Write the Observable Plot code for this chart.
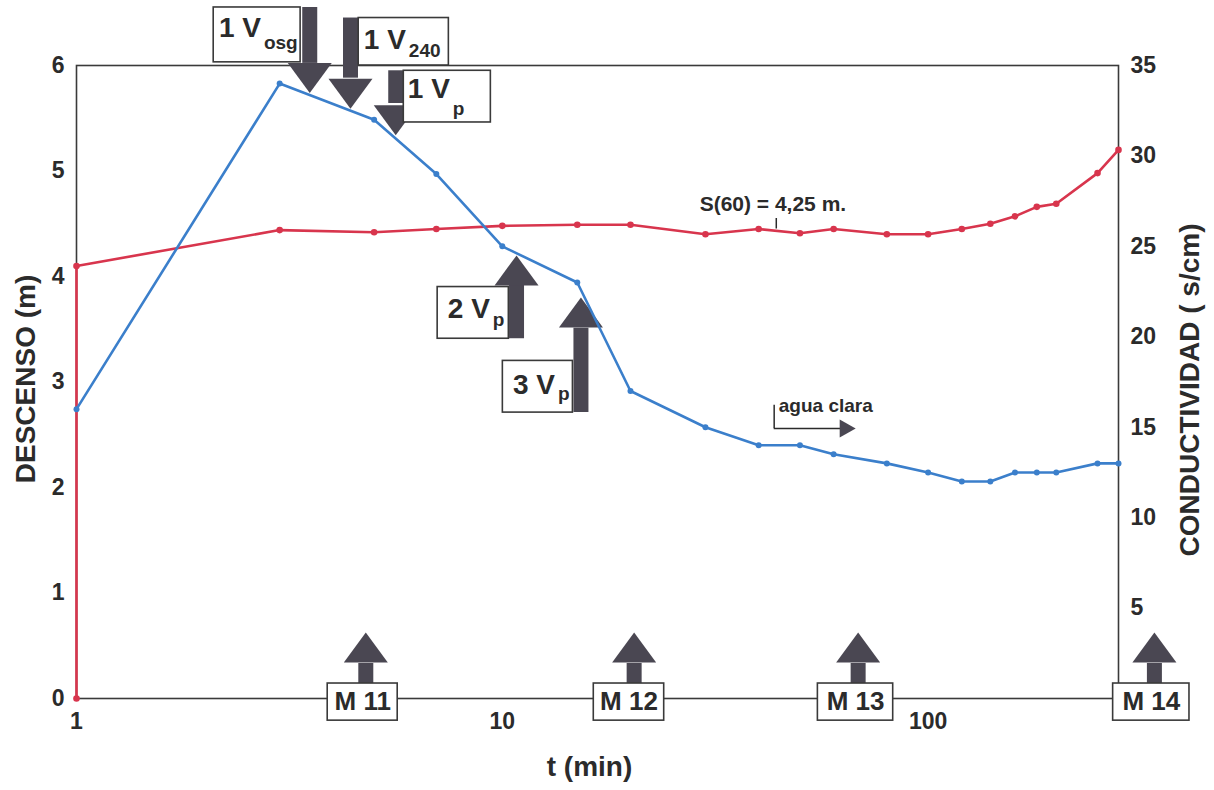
<!DOCTYPE html>
<html>
<head>
<meta charset="utf-8">
<script src="https://cdn.jsdelivr.net/npm/d3@7"></script>
<script src="https://cdn.jsdelivr.net/npm/@observablehq/plot@0.6"></script>
<style>
  html, body { margin: 0; padding: 0; background: #fff; overflow: hidden; }
</style>
</head>
<body>
<div id="chart"></div>
<script>
// Ensayo de bombeo: descenso (m) y conductividad frente al tiempo (min), eje X logarítmico

// --- Datos ---
const tiempos = [1, 3, 5, 7, 10, 15, 20, 30, 40, 50, 60, 80, 100, 120, 140, 160, 180, 200, 250, 280];
const descenso = [4.10, 4.44, 4.42, 4.45, 4.48, 4.49, 4.49, 4.40, 4.45, 4.41, 4.45, 4.40, 4.40, 4.45, 4.50, 4.57, 4.66, 4.69, 4.98, 5.20];
const conductividad = [16, 34, 32, 29, 25, 23, 17, 15, 14, 14, 13.5, 13, 12.5, 12, 12, 12.5, 12.5, 12.5, 13, 13];
const descensoInicial = { t: 1, v: 0 };   // nivel antes de arrancar la bomba

const ticksTiempo = [1, 10, 100];
const ticksDescenso = [0, 1, 2, 3, 4, 5, 6];
const ticksConductividad = [5, 10, 15, 20, 25, 30, 35];

// --- Anotaciones (en unidades de los ejes: t en min, y en m) ---
const notasVolumen = [
  { texto: "1 V", sub: "osg", t: 3.53, cola: 6.55, base: 6.02, punta: 5.74, x1: 2.10, x2: 3.36, y1: 6.03, y2: 6.55, tx: 2.16, ty: 6.27, sy: 6.16 },
  { texto: "1 V", sub: "240", t: 4.40, cola: 6.45, base: 5.88, punta: 5.59, x1: 4.60, x2: 7.49, y1: 6.00, y2: 6.45, tx: 4.73, ty: 6.16, sy: 6.08 },
  { texto: "1 V", sub: "p", t: 5.62, cola: 5.95, base: 5.64, punta: 5.34, x1: 5.87, x2: 9.40, y1: 5.46, y2: 5.95, tx: 6.00, ty: 5.69, sy: 5.535 },
  { texto: "2 V", sub: "p", t: 10.8, cola: 3.41, base: 3.915, punta: 4.20, x1: 7.05, x2: 10.36, y1: 3.41, y2: 3.90, tx: 7.45, ty: 3.61, sy: 3.53 },
  { texto: "3 V", sub: "p", t: 15.3, cola: 2.71, base: 3.51, punta: 3.80, x1: 10.03, x2: 14.65, y1: 2.71, y2: 3.20, tx: 10.59, ty: 2.89, sy: 2.825 }
];
const notasMuestra = [
  { texto: "M 11", t: 4.78, x1: 3.89, x2: 5.68 },
  { texto: "M 12", t: 20.4, x1: 16.4, x2: 24.0 },
  { texto: "M 13", t: 68.5, x1: 55.1, x2: 82.8 },
  { texto: "M 14", t: 340, x1: 272, x2: 411 }
];
const cajaMuestra = { y1: -0.21, y2: 0.142, base: 0.332, punta: 0.626, ty: -0.034 };
const notaS60 = { texto: "S(60) = 4,25 m.", t: 43.2, y: 4.68, marcaT: 44, marcaY1: 4.45, marcaY2: 4.55 };
const notaAgua = { texto: "agua clara", t: 44.6, y: 2.72, t0: 43.5, t1: 62.5, tPunta: 67.6, y0: 2.56, yTop: 2.78 };

// --- Escalas y estilos ---
const Y_MAX = 6, C_MAX = 35;
const aDescenso = c => c * Y_MAX / C_MAX;        // conductividad -> eje izquierdo
const rojo = "#d8354d";
const azul = "#3b7fcb";
const gris = "#4a4752";
const tinta = "#2b2b2b";
const fuente = "'Liberation Sans', Arial, Helvetica, sans-serif";

// Cabeza de flecha con la punta en el origen (apunta hacia arriba)
const cabeza = {
  draw(ctx) { ctx.moveTo(0, 0); ctx.lineTo(22, 30); ctx.lineTo(-22, 30); ctx.closePath(); }
};
const cabezaChica = {
  draw(ctx) { ctx.moveTo(0, 0); ctx.lineTo(9, 16); ctx.lineTo(-9, 16); ctx.closePath(); }
};

const serieRoja = [descensoInicial, ...tiempos.map((t, i) => ({ t, v: descenso[i] }))];
const serieAzul = tiempos.map((t, i) => ({ t, v: conductividad[i] }));

const chart = Plot.plot({
  width: 1214,
  height: 790,
  marginTop: 65,
  marginBottom: 92,
  marginLeft: 76,
  marginRight: 96,
  x: { type: "log", domain: [1, 280] },
  y: { domain: [0, Y_MAX] },
  style: { fontFamily: fuente, fontWeight: "bold", fontSize: "23px", color: tinta, background: "#fff" },
  marks: [
    Plot.frame({ stroke: "#3a3a3a", strokeWidth: 1.6 }),

    // ejes
    Plot.axisY({ ticks: ticksDescenso, tickFormat: d => d, tickSize: 0, tickPadding: 12, label: null }),
    Plot.axisY({
      anchor: "right",
      ticks: ticksConductividad.map(aDescenso),
      tickFormat: d => Math.round(d * C_MAX / Y_MAX),
      tickSize: 0, tickPadding: 12, label: null
    }),
    Plot.axisX({ ticks: ticksTiempo, tickFormat: d => d, tickSize: 0, tickPadding: 14, label: null }),

    // títulos de los ejes
    Plot.text(["DESCENSO (m)"], { text: d => d, frameAnchor: "left", textAnchor: "middle", lineAnchor: "middle", rotate: -90, dx: -50, dy: -3, fontSize: 28, fill: tinta }),
    Plot.text(["CONDUCTIVIDAD ( s/cm)"], { text: d => d, frameAnchor: "right", textAnchor: "middle", lineAnchor: "middle", rotate: -90, dx: 72, dy: 8, fontSize: 28, fill: tinta }),
    Plot.text(["t (min)"], { text: d => d, frameAnchor: "bottom", textAnchor: "middle", lineAnchor: "middle", dx: -8, dy: 69, fontSize: 28, fill: tinta }),

    // flechas de volumen purgado
    Plot.ruleX(notasVolumen, { x: "t", y1: "cola", y2: "base", stroke: gris, strokeWidth: 15 }),
    Plot.dot(notasVolumen, {
      x: "t", y: "punta", symbol: cabeza, fill: gris, stroke: "none",
      rotate: d => (d.cola > d.punta ? 180 : 0)
    }),
    Plot.rect(notasVolumen, { x1: "x1", x2: "x2", y1: "y1", y2: "y2", fill: "#fff", stroke: "#3a3a3a", strokeWidth: 1.6 }),
    Plot.text(notasVolumen, { x: "tx", y: "ty", text: "texto", textAnchor: "start", lineAnchor: "bottom", fontSize: 28, fill: tinta }),
    Plot.text(notasVolumen, { x: "tx", y: "sy", text: "sub", dx: 45, textAnchor: "start", lineAnchor: "bottom", fontSize: 19, fill: tinta }),

    // flechas de toma de muestra
    Plot.ruleX(notasMuestra, { x: "t", y1: cajaMuestra.y2, y2: cajaMuestra.base, stroke: gris, strokeWidth: 15 }),
    Plot.dot(notasMuestra, { x: "t", y: cajaMuestra.punta, symbol: cabeza, fill: gris, stroke: "none" }),
    Plot.rect(notasMuestra, { x1: "x1", x2: "x2", y1: cajaMuestra.y1, y2: cajaMuestra.y2, fill: "#fff", stroke: "#3a3a3a", strokeWidth: 1.6 }),
    Plot.text(notasMuestra, { x: d => Math.sqrt(d.x1 * d.x2), y: cajaMuestra.ty, text: "texto", lineAnchor: "middle", fontSize: 26, fill: tinta }),

    // series
    Plot.line(serieRoja, { x: "t", y: "v", stroke: rojo, strokeWidth: 2.6 }),
    Plot.dot(serieRoja, { x: "t", y: "v", r: 3.3, fill: rojo, stroke: "none" }),
    Plot.line(serieAzul, { x: "t", y: d => aDescenso(d.v), stroke: azul, strokeWidth: 2.6 }),
    Plot.dot(serieAzul, { x: "t", y: d => aDescenso(d.v), r: 3, fill: azul, stroke: "none" }),

    // S(60)
    Plot.text([notaS60], { x: "t", y: "y", text: "texto", lineAnchor: "middle", fontSize: 21, fill: tinta }),
    Plot.ruleX([notaS60], { x: "marcaT", y1: "marcaY1", y2: "marcaY2", stroke: tinta, strokeWidth: 1.5 }),

    // agua clara
    Plot.text([notaAgua], { x: "t", y: "y", text: "texto", textAnchor: "start", lineAnchor: "bottom", fontSize: 19, fill: tinta }),
    Plot.ruleX([notaAgua], { x: "t0", y1: "y0", y2: "yTop", stroke: tinta, strokeWidth: 1.5 }),
    Plot.ruleY([notaAgua], { y: "y0", x1: "t0", x2: "t1", stroke: tinta, strokeWidth: 1.5 }),
    Plot.dot([notaAgua], { x: "tPunta", y: "y0", symbol: cabezaChica, rotate: 90, fill: gris, stroke: "none" })
  ]
});

document.getElementById("chart").appendChild(chart);
</script>
</body>
</html>
